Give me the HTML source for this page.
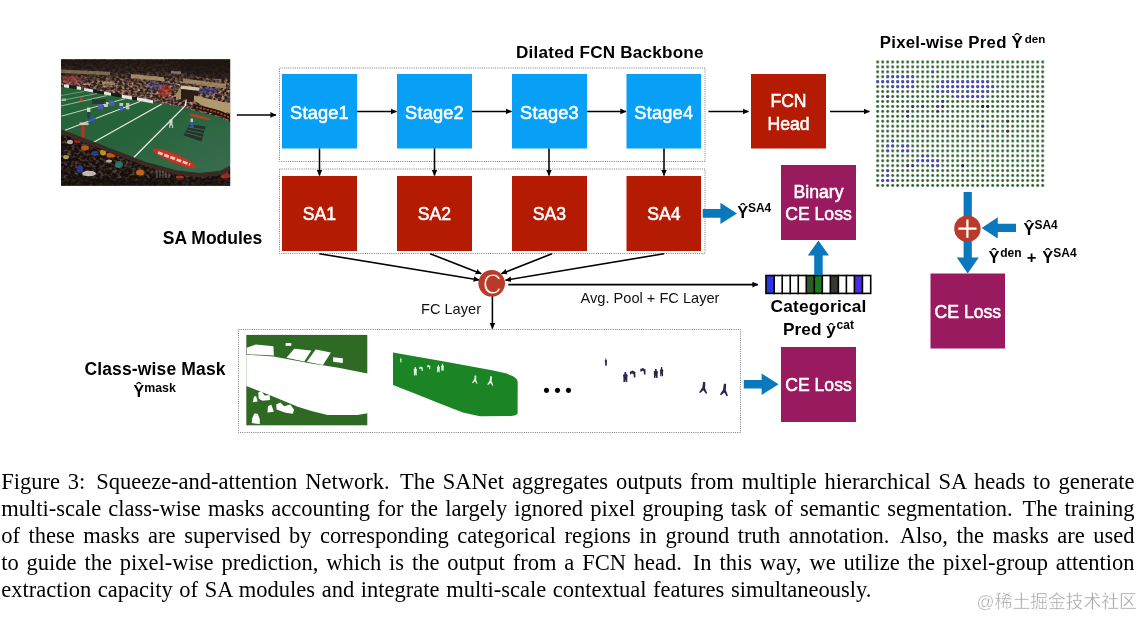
<!DOCTYPE html>
<html lang="en">
<head>
<meta charset="utf-8">
<title>Figure 3 - Squeeze-and-attention Network</title>
<style>
html,body{margin:0;padding:0;background:#fff;}
#wrap{position:relative;width:1143px;height:617px;overflow:hidden;background:#fff;font-family:"Liberation Sans",sans-serif;}
#fig{position:absolute;left:0;top:0;}
#fig text{font-family:"Liberation Sans",sans-serif;}
.w{fill:#fff;stroke:#fff;stroke-width:0.55px;font-size:17.6px;text-anchor:middle;}
.b{fill:#000;font-weight:bold;}
.r{fill:#111;font-size:14.6px;}
.cap{position:absolute;left:1.2px;width:1133.4px;height:27px;line-height:27px;font-family:"Liberation Serif",serif;font-size:22.5px;color:#000;text-align:justify;text-align-last:justify;white-space:nowrap;}
.cap.last{text-align:left;text-align-last:left;word-spacing:1.0px;}
.sp{display:inline-block;width:3px;}
.wm{position:absolute;left:976.6px;top:589.8px;font-family:"Liberation Sans","Noto Sans CJK SC",sans-serif;font-size:17.8px;color:#a4a4a4;-webkit-text-stroke:0.4px #fff;white-space:nowrap;line-height:24px;}
</style>
</head>
<body>
<div id="wrap">
<svg id="fig" width="1143" height="617" viewBox="0 0 1143 617">
<defs>
<marker id="ah" markerWidth="8" markerHeight="8" refX="5.6" refY="3" orient="auto" markerUnits="userSpaceOnUse"><path d="M0,0.2 L6,3 L0,5.8 Z" fill="#000"/></marker>
<pattern id="dots" x="875.20" y="59.53" width="5.00" height="4.94" patternUnits="userSpaceOnUse"><circle cx="2.5" cy="2.47" r="1.42" fill="#235a25"/></pattern>
<clipPath id="pc"><rect x="61" y="59.3" width="169.2" height="126.4"/></clipPath>
<filter id="crowd" x="0" y="0" width="100%" height="100%" color-interpolation-filters="sRGB">
<feTurbulence type="fractalNoise" baseFrequency="0.32 0.42" numOctaves="2" seed="7" result="n"/>
<feColorMatrix in="n" type="matrix" values="2.5 0.5 0 0 -1.15  2.0 0.5 0 0 -1.0  1.9 0 0.5 0 -0.97  0 0 0 0 1"/>
</filter>
<filter id="crowd2" x="0" y="0" width="100%" height="100%" color-interpolation-filters="sRGB">
<feTurbulence type="fractalNoise" baseFrequency="0.28 0.34" numOctaves="2" seed="21" result="n"/>
<feColorMatrix in="n" type="matrix" values="2.3 0.5 0 0 -1.18  1.9 0.5 0 0 -1.05  1.8 0 0.5 0 -1.0  0 0 0 0 1"/>
</filter>
<filter id="bl" x="-5%" y="-5%" width="110%" height="110%"><feGaussianBlur stdDeviation="0.6"/></filter>
<linearGradient id="fg" x1="0" y1="0" x2="1" y2="1">
<stop offset="0" stop-color="#246538"/><stop offset="0.5" stop-color="#27643b"/><stop offset="1" stop-color="#3a6c50"/>
</linearGradient>
<linearGradient id="topdark" x1="0" y1="0" x2="0" y2="1">
<stop offset="0" stop-color="#1c1410" stop-opacity="0.95"/><stop offset="0.55" stop-color="#1c1410" stop-opacity="0.75"/><stop offset="1" stop-color="#2a1c14" stop-opacity="0.15"/>
</linearGradient>
<clipPath id="lc"><polygon points="61,134 145,166.5 177.6,175.3 199.3,177.7 221,175.5 231,170 231,186 61,186"/></clipPath>

</defs>

<g clip-path="url(#pc)">
<rect x="61" y="59.3" width="169.2" height="126.4" fill="#2a1e17"/>
<g filter="url(#bl)">
<!-- upper crowd -->
<rect x="61" y="59.3" width="170" height="66" filter="url(#crowd)"/>
<rect x="61" y="59.3" width="170" height="66" fill="#5a4438" opacity="0.45"/>
<ellipse cx="222" cy="66" rx="42" ry="13" fill="#181010" opacity="0.6"/>
<rect x="61" y="59.3" width="170" height="22" fill="url(#topdark)"/>
<!-- beige walls -->
<polygon points="61,69.5 110,71.8 110,75.2 61,73" fill="#b8a078" opacity="0.55"/>
<polygon points="102,81.3 115,82.6 115,85.4 102,84.2" fill="#b89c70" opacity="0.7"/>
<polygon points="131,74 164,77.2 164,81.2 131,78" fill="#b8a078" opacity="0.8"/>

<polygon points="171,71 181,71.5 181,74 171,73.5" fill="#9a8a90" opacity="0.8"/>
<polygon points="181,85.5 199.5,87.5 199,91 181,89" fill="#d2c4a4"/>
<polygon points="181,89 199,91 197,101 178,99" fill="#2a1c14"/>
<polygon points="176,94 181,86 181,99 176,100" fill="#a08a64"/>
<polygon points="183,78.5 226,84 226,88.5 183,83" fill="#a89068" opacity="0.8"/>
<polygon points="194,95.5 230,103.5 230,113 222,111.5 205,107 194,100.5" fill="#b09a6c"/>
<!-- red / blue crowd tints -->
<ellipse cx="72" cy="80" rx="10" ry="4" fill="#c04048" opacity="0.45"/>
<ellipse cx="165" cy="91" rx="7" ry="6" fill="#c83020" opacity="0.5"/>
<ellipse cx="155" cy="86" rx="8" ry="4" fill="#3848a0" opacity="0.4"/>
<ellipse cx="208" cy="91" rx="10" ry="3.5" fill="#3040a0" opacity="0.45"/>
<!-- field -->
<polygon points="61,86.2 106,93.6 150,101.2 166.7,104.5 177.6,106 188.4,109 199.3,111.8 210,114.5 221,118 231,122.3 231,165.3 221,171 210,172.8 199.3,173.3 188,172.6 177.6,171 145,162.3 61,130" fill="url(#fg)"/>
<!-- ad boards along top edge -->
<g fill="#e8e4dc">
<polygon points="64,84.2 69,85 69,88 64,87.2"/><polygon points="76.5,86.2 81,87 81,90 76.5,89.2"/>
<polygon points="84,88 93,89.6 93,92.4 84,90.8"/><polygon points="104,91.5 111,92.8 111,95.8 104,94.5"/>
<polygon points="121.5,94.5 132,96.5 132,99.8 121.5,97.8"/><polygon points="137,97.3 153,100.3 153,103.6 137,100.6"/>
</g>
<g fill="#1c1a16"><polygon points="69,85 76.5,86.2 76.5,89.2 69,88"/><polygon points="93,89.6 104,91.5 104,94.5 93,92.4"/><polygon points="111,92.8 121.5,94.5 121.5,97.8 111,95.8"/><polygon points="132,96.5 137,97.3 137,100.6 132,99.8"/></g>
<!-- curved banner at right -->
<path d="M193,106.5 L205,109 L218,112.5 L231,118" stroke="#1a1410" stroke-width="4.6" fill="none"/>
<path d="M196,107.2 L205,109 L218,112.5 L231,118" stroke="#c8401c" stroke-width="1.6" fill="none" stroke-dasharray="2.4 1.2"/>
<!-- yard lines -->
<g stroke="#e9efe6" fill="none" stroke-linecap="butt">
<line x1="61" y1="95.5" x2="84" y2="91.5" stroke-width="0.7" opacity="0.5"/>
<line x1="61" y1="100.5" x2="97" y2="93.5" stroke-width="0.8" opacity="0.55"/>
<line x1="61" y1="106" x2="106.7" y2="95.6" stroke-width="0.9" opacity="0.7"/>
<line x1="61.6" y1="116.1" x2="125" y2="98.7" stroke-width="1" opacity="0.8"/>
<line x1="64.9" y1="130.3" x2="140.3" y2="101.4" stroke-width="1"/>
<line x1="93.7" y1="142.3" x2="161.8" y2="104.1" stroke-width="1.1"/>
<path d="M133.3,158 L185.3,105.8 L186.3,99.5" stroke-width="1.25"/>
</g>
<!-- red logos -->
<ellipse cx="174.3" cy="158.2" rx="23.6" ry="4.4" transform="rotate(22.5 174.3 158.2)" fill="#c93020"/>
<path d="M158,152.5 L190,164.5" stroke="#f0d8d0" stroke-width="2.8" stroke-dasharray="5 1.6" fill="none" opacity="0.9"/>
<ellipse cx="200" cy="117" rx="11.5" ry="1.4" transform="rotate(14 200 117)" fill="#d03a24" opacity="0.9"/>
<!-- dark blocks -->
<polygon points="183.5,135.2 189.5,124.3 205.5,126.6 201.5,141.4" fill="#26302a"/>
<path d="M186.5,129.8 L203.5,133.5 M185,132.6 L202.5,137.2 M188,127 L204.5,130" stroke="#3c6c48" stroke-width="0.9" fill="none"/>
<!-- goal post pad -->
<rect x="81.2" y="124.3" width="3.2" height="13.8" fill="#d8201c"/>
<rect x="79.5" y="122.5" width="9" height="2.6" fill="#e8d8d0" opacity="0.8"/>
<!-- players -->
<g opacity="0.85">
<rect x="169.4" y="119.5" width="3.2" height="6" fill="#e4e0d4"/><rect x="169.2" y="125" width="1.2" height="3" fill="#d8d4c8"/><rect x="172" y="125" width="1.2" height="3" fill="#d8d4c8"/>
<rect x="190.2" y="122" width="3.4" height="6" fill="#3c54b8"/><rect x="190.6" y="118.6" width="2.4" height="3.4" fill="#e8e0c0"/>
<rect x="87" y="107.5" width="3.4" height="4.6" fill="#e6e2c4"/><rect x="87.2" y="112" width="3" height="6.6" fill="#283868"/>
<rect x="98" y="104" width="5" height="5.5" fill="#4c5cb8"/><rect x="104" y="102" width="4" height="5" fill="#d8d8d0"/>
<rect x="109" y="100.5" width="5.5" height="5.5" fill="#4c5cb8"/><rect x="119.5" y="103" width="3.6" height="3.2" fill="#e6dca0"/><rect x="119.8" y="106" width="3.2" height="5" fill="#4658b8"/>
<rect x="126" y="103" width="3.4" height="6.4" fill="#d4d0c4"/><rect x="92" y="99" width="14" height="5" fill="#2a2824" opacity="0.8"/>
<rect x="88" y="118.5" width="8" height="2.6" fill="#3048d0" transform="rotate(-8 92 120)"/>
<rect x="80" y="97.5" width="2.6" height="4" fill="#c04040"/><rect x="62" y="98.5" width="4" height="2.6" fill="#d8c8c0" opacity="0.8"/>
</g>
<!-- lower board wall -->
<path d="M61,131.8 L145,164.2 L177.6,173 L199.3,175.4 L221,173.2 L231,167.8" stroke="#3a2a24" stroke-width="4.8" fill="none"/>
<!-- lower crowd -->
<polygon points="61,134 145,166.5 177.6,175.3 199.3,177.7 221,175.5 231,170 231,186 61,186" fill="#2a1d18"/>
<g clip-path="url(#lc)">
<rect x="61" y="128" width="170" height="58" filter="url(#crowd2)" opacity="0.9"/>
<rect x="61" y="128" width="170" height="58" fill="#1c130e" opacity="0.66"/>
<g opacity="0.8">
<ellipse cx="85" cy="148" rx="4" ry="2.4" fill="#e86414"/><ellipse cx="111" cy="155" rx="4.6" ry="2.6" fill="#e8601a"/>
<ellipse cx="103" cy="152.5" rx="3" ry="3" fill="#e8b020"/><ellipse cx="95" cy="153.5" rx="3.4" ry="2.4" fill="#2c48a8"/>
<ellipse cx="80" cy="169" rx="3.4" ry="4" fill="#2844a0"/><ellipse cx="119" cy="164.5" rx="4" ry="3.6" fill="#2c8a78"/>
<ellipse cx="89" cy="173.5" rx="7" ry="2.8" fill="#e4e0dc"/><ellipse cx="140" cy="172.5" rx="4" ry="3" fill="#e87818"/>
<ellipse cx="70" cy="142" rx="3" ry="2.2" fill="#d8d0c8"/><ellipse cx="77" cy="141" rx="3" ry="2" fill="#b02820"/>
<ellipse cx="66" cy="157" rx="3" ry="2" fill="#c8c060"/><ellipse cx="109" cy="161" rx="3" ry="1.6" fill="#d8d4d0"/>
<ellipse cx="125" cy="156" rx="2" ry="1.6" fill="#e0d8d0"/><ellipse cx="180" cy="178" rx="4" ry="2.4" fill="#c83820"/>
<ellipse cx="225" cy="176" rx="4" ry="4" fill="#b83028"/><ellipse cx="197" cy="170.8" rx="3.6" ry="1.8" fill="#e4e4e0"/>
</g>
<path d="M157,166 V178 M160,167 V178 M163,168 V178 M166,169 V178 M169,170 V178" stroke="#b0aca8" stroke-width="0.8" opacity="0.7"/>
<rect x="61" y="178" width="170" height="8" fill="#1a120e" opacity="0.6"/>
<path d="M61,172 L100,182 L160,183" stroke="#181210" stroke-width="3" fill="none" opacity="0.8"/>
</g>
</g>
</g>

<g><rect x="246.3" y="334.9" width="121" height="90.4" fill="#2e6a24"/>
<g fill="#fff">
<polygon points="246.3,354.7 259.8,355.5 273.4,356.6 292.4,359.9 311.4,363.4 338.5,367.7 354.8,371.0 368.9,373.7 368.9,413.0 357.5,414.9 327.6,414.9 311.4,411.1 297.8,406.8 270.7,395.4 246.3,385.9"/>
<polygon points="246.8,347.7 255.8,344.4 273.4,346.3 273.9,355.5 246.8,354.2"/>
<polygon points="286.4,357.7 294.3,348.7 311.4,350.4 304.3,361.5"/>
<polygon points="306.8,361.8 315.7,349.6 330.9,352.5 323.0,365.0"/>
<polygon points="333.1,357.2 342.8,358.2 342.8,362.9 333.1,361.8"/>
<polygon points="285.6,343.1 291.3,343.1 291.3,345.8 285.6,345.8"/>
<polygon points="253.9,396.8 256.0,395.9 257.7,401.4 252.8,402.2"/>
<polygon points="258.2,392.7 261.2,391.1 264.7,395.4 269.6,394.9 270.1,400.0 262.5,400.8 258.7,398.7"/>
<polygon points="268.0,406.2 271.2,404.6 273.9,411.7 267.4,412.5"/>
<polygon points="276.1,404.6 280.4,402.4 284.2,406.2 290.2,404.6 294.0,409.5 292.9,413.8 285.6,412.8 276.6,409.5"/>
<polygon points="252.2,418.2 254.4,413.6 257.7,413.8 259.8,419.3 259.8,424.1 251.7,423.1"/>
</g></g>
<polygon points="393.0,352.5 447.1,362.0 493.3,370.5 506.6,373.6 513.0,376.2 516.4,378.8 517.7,381.5 517.6,413.8 515.5,415.3 511.5,415.9 479.9,416.2 462.9,412.4 442.2,404.5 417.9,394.8 393.0,385.1" fill="#1b8425"/>
<g fill="#e2f2de">
<polygon points="400.5,357.8 401.1,357.8 401.1,358.8 401.6,359.2 401.4,360.4 401.4,362.6 400.9,362.6 400.8,361.2 400.7,362.6 400.2,362.6 400.2,360.4 400.0,359.2 400.5,358.8"/>
<polygon points="414.7,366.9 415.9,366.9 416.0,368.6 417.0,369.5 416.7,371.7 416.7,375.6 415.6,375.6 415.3,373.0 415.0,375.6 413.9,375.6 413.9,371.7 413.6,369.5 414.6,368.6"/>
<polygon points="419.2,367.3 421.0,366.6 422.8,367.5 422.8,371.1 421.7,371.1 421.5,368.9 420.3,368.4 419.7,369.3 419.2,368.9"/>
<polygon points="427.0,365.6 428.6,365.0 430.3,365.9 430.3,369.3 429.3,369.3 429.1,367.1 428.0,366.7 427.5,367.6 427.0,367.1"/>
<polygon points="437.8,365.0 439.0,365.0 439.0,366.5 440.0,367.2 439.7,369.0 439.7,372.3 438.7,372.3 438.4,370.1 438.1,372.3 437.1,372.3 437.1,369.0 436.8,367.2 437.8,366.5"/>
<polygon points="442.0,363.8 443.0,363.8 443.1,365.2 444.0,365.9 443.7,367.7 443.7,370.8 442.7,370.8 442.5,368.7 442.3,370.8 441.3,370.8 441.3,367.7 441.0,365.9 441.9,365.2"/>
<polygon points="474.8,375.4 476.2,375.4 476.3,377.0 476.1,379.8 477.5,383.4 476.8,384.1 475.0,381.3 472.8,383.2 472.0,382.7 474.2,379.3 474.5,376.7"/>
<polygon points="490.2,376.3 491.8,376.3 492.0,378.1 491.7,381.2 493.3,385.3 492.6,386.1 490.5,383.0 488.1,385.1 487.2,384.5 489.6,380.7 490.0,377.8"/>
</g>
<g fill="#2d2450">
<polygon points="605.5,358.3 606.3,358.3 606.3,359.8 607.0,360.5 606.8,362.4 606.8,365.7 606.1,365.7 605.9,363.5 605.7,365.7 605.0,365.7 605.0,362.4 604.8,360.5 605.5,359.8"/>
<polygon points="624.5,372.0 626.2,372.0 626.3,374.0 627.8,375.0 627.3,377.6 627.3,382.1 625.7,382.1 625.3,379.1 625.0,382.1 623.4,382.1 623.4,377.6 622.9,375.0 624.4,374.0"/>
<polygon points="629.9,371.7 632.6,370.6 635.4,372.0 635.4,377.6 633.8,377.6 633.5,374.1 631.5,373.4 630.7,374.8 629.9,374.1"/>
<polygon points="640.3,369.1 642.9,368.1 645.5,369.4 645.5,374.5 643.9,374.5 643.7,371.3 641.9,370.7 641.1,371.9 640.3,371.3"/>
<polygon points="655.0,369.0 656.6,369.0 656.7,370.8 658.1,371.7 657.6,373.9 657.6,377.9 656.2,377.9 655.8,375.2 655.4,377.9 654.0,377.9 654.0,373.9 653.5,371.7 654.9,370.8"/>
<polygon points="661.0,367.1 662.2,367.1 662.3,368.9 663.3,369.9 663.0,372.2 663.0,376.3 661.9,376.3 661.6,373.5 661.3,376.3 660.2,376.3 660.2,372.2 659.9,369.9 660.9,368.9"/>
<polygon points="703.1,382.1 705.2,382.1 705.3,384.3 705.0,388.1 707.1,393.1 706.1,394.1 703.4,390.3 700.3,392.9 699.1,392.2 702.3,387.5 702.8,383.9"/>
<polygon points="723.9,383.7 726.0,383.7 726.1,386.0 725.8,390.1 727.9,395.5 726.9,396.5 724.2,392.4 721.1,395.2 719.9,394.5 723.1,389.5 723.6,385.6"/>
</g>
<rect x="765.70" y="275.2" width="8.50" height="18.5" fill="#2b37e2"/>
<rect x="806.28" y="275.2" width="8.02" height="18.5" fill="#2f5a24"/>
<rect x="814.30" y="275.2" width="8.02" height="18.5" fill="#1c7a22"/>
<rect x="830.34" y="275.2" width="8.02" height="18.5" fill="#333a31"/>
<rect x="854.40" y="275.2" width="8.02" height="18.5" fill="#4a2ee0"/>
<path d="M774.20,274.7 V294.2 M782.22,274.7 V294.2 M790.24,274.7 V294.2 M798.26,274.7 V294.2 M806.28,274.7 V294.2 M814.30,274.7 V294.2 M822.32,274.7 V294.2 M830.34,274.7 V294.2 M838.36,274.7 V294.2 M846.38,274.7 V294.2 M854.40,274.7 V294.2 M862.42,274.7 V294.2 " stroke="#000" stroke-width="1.6" fill="none"/>
<rect x="766.00" y="275.50" width="104.70" height="17.90" fill="none" stroke="#000" stroke-width="1.6"/>
<rect x="875.20" y="59.53" width="170.00" height="128.44" fill="url(#dots)"/>
<g fill="#4a3ed2"><circle cx="877.7" cy="81.8" r="1.45"/><circle cx="882.7" cy="81.8" r="1.45"/><circle cx="882.7" cy="180.6" r="1.45"/><circle cx="887.7" cy="76.8" r="1.45"/><circle cx="887.7" cy="81.8" r="1.45"/><circle cx="887.7" cy="146.0" r="1.45"/><circle cx="887.7" cy="150.9" r="1.45"/><circle cx="887.7" cy="170.7" r="1.45"/><circle cx="887.7" cy="175.6" r="1.45"/><circle cx="887.7" cy="180.6" r="1.45"/><circle cx="892.7" cy="76.8" r="1.45"/><circle cx="892.7" cy="81.8" r="1.45"/><circle cx="892.7" cy="86.7" r="1.45"/><circle cx="892.7" cy="141.0" r="1.45"/><circle cx="892.7" cy="146.0" r="1.45"/><circle cx="892.7" cy="180.6" r="1.45"/><circle cx="897.7" cy="76.8" r="1.45"/><circle cx="897.7" cy="81.8" r="1.45"/><circle cx="897.7" cy="86.7" r="1.45"/><circle cx="902.7" cy="76.8" r="1.45"/><circle cx="902.7" cy="81.8" r="1.45"/><circle cx="902.7" cy="86.7" r="1.45"/><circle cx="902.7" cy="146.0" r="1.45"/><circle cx="902.7" cy="150.9" r="1.45"/><circle cx="907.7" cy="76.8" r="1.45"/><circle cx="907.7" cy="81.8" r="1.45"/><circle cx="907.7" cy="86.7" r="1.45"/><circle cx="907.7" cy="146.0" r="1.45"/><circle cx="907.7" cy="150.9" r="1.45"/><circle cx="912.7" cy="76.8" r="1.45"/><circle cx="912.7" cy="81.8" r="1.45"/><circle cx="912.7" cy="86.7" r="1.45"/><circle cx="917.7" cy="160.8" r="1.45"/><circle cx="922.7" cy="155.9" r="1.45"/><circle cx="922.7" cy="160.8" r="1.45"/><circle cx="927.7" cy="155.9" r="1.45"/><circle cx="927.7" cy="160.8" r="1.45"/><circle cx="932.7" cy="71.9" r="1.45"/><circle cx="932.7" cy="160.8" r="1.45"/><circle cx="932.7" cy="165.7" r="1.45"/><circle cx="937.7" cy="86.7" r="1.45"/><circle cx="937.7" cy="91.6" r="1.45"/><circle cx="937.7" cy="160.8" r="1.45"/><circle cx="937.7" cy="165.7" r="1.45"/><circle cx="942.7" cy="81.8" r="1.45"/><circle cx="942.7" cy="86.7" r="1.45"/><circle cx="942.7" cy="91.6" r="1.45"/><circle cx="947.7" cy="81.8" r="1.45"/><circle cx="947.7" cy="86.7" r="1.45"/><circle cx="947.7" cy="91.6" r="1.45"/><circle cx="952.7" cy="81.8" r="1.45"/><circle cx="952.7" cy="86.7" r="1.45"/><circle cx="952.7" cy="91.6" r="1.45"/><circle cx="957.7" cy="81.8" r="1.45"/><circle cx="957.7" cy="86.7" r="1.45"/><circle cx="957.7" cy="91.6" r="1.45"/><circle cx="957.7" cy="96.6" r="1.45"/><circle cx="962.7" cy="81.8" r="1.45"/><circle cx="962.7" cy="86.7" r="1.45"/><circle cx="962.7" cy="96.6" r="1.45"/><circle cx="967.7" cy="81.8" r="1.45"/><circle cx="967.7" cy="86.7" r="1.45"/><circle cx="967.7" cy="91.6" r="1.45"/><circle cx="967.7" cy="96.6" r="1.45"/><circle cx="972.7" cy="81.8" r="1.45"/><circle cx="972.7" cy="86.7" r="1.45"/><circle cx="972.7" cy="91.6" r="1.45"/><circle cx="972.7" cy="96.6" r="1.45"/><circle cx="977.7" cy="81.8" r="1.45"/><circle cx="977.7" cy="86.7" r="1.45"/><circle cx="977.7" cy="91.6" r="1.45"/><circle cx="977.7" cy="96.6" r="1.45"/><circle cx="982.7" cy="81.8" r="1.45"/><circle cx="982.7" cy="86.7" r="1.45"/><circle cx="982.7" cy="91.6" r="1.45"/><circle cx="982.7" cy="96.6" r="1.45"/><circle cx="987.7" cy="81.8" r="1.45"/><circle cx="987.7" cy="86.7" r="1.45"/><circle cx="987.7" cy="91.6" r="1.45"/><circle cx="992.7" cy="86.7" r="1.45"/></g>
<g fill="#4a2a78"><circle cx="887.7" cy="96.6" r="1.45"/><circle cx="907.7" cy="111.4" r="1.45"/><circle cx="907.7" cy="116.3" r="1.45"/><circle cx="907.7" cy="165.7" r="1.45"/><circle cx="912.7" cy="106.5" r="1.45"/><circle cx="912.7" cy="165.7" r="1.45"/><circle cx="922.7" cy="106.5" r="1.45"/><circle cx="937.7" cy="106.5" r="1.45"/><circle cx="937.7" cy="111.4" r="1.45"/><circle cx="942.7" cy="101.5" r="1.45"/><circle cx="942.7" cy="106.5" r="1.45"/><circle cx="982.7" cy="126.2" r="1.45"/></g>
<g fill="#1a1a1a"><circle cx="962.7" cy="165.7" r="1.45"/><circle cx="982.7" cy="106.5" r="1.45"/><circle cx="987.7" cy="106.5" r="1.45"/></g>
<g fill="#6a2030"><circle cx="1007.7" cy="121.3" r="1.45"/><circle cx="1007.7" cy="131.2" r="1.45"/></g>
<!-- dotted group boxes -->
<g fill="none" stroke="#7a7a7a" stroke-width="1" stroke-dasharray="1 1.2">
<rect x="279.5" y="68" width="425.5" height="93.5"/>
<rect x="279.5" y="169" width="425.5" height="84.5"/>
<rect x="238.5" y="329.5" width="502" height="103"/>
</g>

<!-- stage boxes -->
<g fill="#08a0f6">
<rect x="282" y="74" width="75" height="74.5"/>
<rect x="397" y="74" width="75" height="74.5"/>
<rect x="512" y="74" width="75" height="74.5"/>
<rect x="626.5" y="74" width="74.5" height="74.5"/>
</g>
<!-- red boxes -->
<g fill="#b51a03">
<rect x="282" y="176" width="75" height="75"/>
<rect x="397" y="176" width="75" height="75"/>
<rect x="512" y="176" width="75" height="75"/>
<rect x="626.5" y="176" width="74.5" height="75"/>
<rect x="751" y="74" width="75" height="74.5"/>
</g>
<!-- purple boxes -->
<g fill="#9a1a5f">
<rect x="781" y="165" width="75" height="75"/>
<rect x="930.5" y="273.5" width="74.5" height="75"/>
<rect x="781" y="347" width="75" height="75"/>
</g>

<!-- thin arrows -->
<g stroke="#000" stroke-width="1.55" fill="none" marker-end="url(#ah)">
<line x1="236.8" y1="114.9" x2="276" y2="114.9"/>
<line x1="357" y1="111.4" x2="396.5" y2="111.4"/>
<line x1="472" y1="111.4" x2="511.5" y2="111.4"/>
<line x1="587" y1="111.4" x2="626" y2="111.4"/>
<line x1="708.5" y1="111.4" x2="748.5" y2="111.4"/>
<line x1="830" y1="111.4" x2="869.5" y2="111.4"/>
<line x1="319.5" y1="148.5" x2="319.5" y2="175.5"/>
<line x1="434.5" y1="148.5" x2="434.5" y2="175.5"/>
<line x1="549" y1="148.5" x2="549" y2="175.5"/>
<line x1="664" y1="148.5" x2="664" y2="175.5"/>
<line x1="319.2" y1="253.7" x2="479.2" y2="280"/>
<line x1="430.2" y1="253.7" x2="481.3" y2="273.7"/>
<line x1="552" y1="253.7" x2="501.4" y2="273.7"/>
<line x1="664" y1="253.7" x2="505.5" y2="280.2"/>
<line x1="508.3" y1="284.6" x2="758" y2="284.6"/>
<line x1="492.4" y1="296" x2="492.4" y2="328.6"/>
</g>

<!-- concat circle -->
<circle cx="491.7" cy="283.3" r="13.3" fill="#ba3a2a"/>
<text x="0" y="0" font-size="29.5" fill="#fff" stroke="#ba3a2a" stroke-width="0.8" text-anchor="middle" transform="translate(492,293.6) scale(0.88,1)">C</text>

<!-- thick blue arrows -->
<g fill="#0a78bd">
<path d="M702.7,209 H720.4 V202.7 L737,213.4 L720.4,224 V217.7 H702.7 Z"/>
<path d="M814.2,274.9 V255.6 H807.8 L818.4,240.6 L829,255.6 H822.7 V274.9 Z"/>
<path d="M963.6,192 H971.8 V257.4 H978.8 L967.7,273.4 L956.8,257.4 H963.6 Z"/>
<path d="M1016,223.7 H997.8 V217.2 L981.6,227.9 L997.8,238.6 V232.1 H1016 Z"/>
<path d="M743.8,380 H761.6 V373.4 L778.6,384.2 L761.6,395 V388.5 H743.8 Z"/>
</g>
<!-- plus circle -->
<circle cx="967.4" cy="228.7" r="13.2" fill="#ba3a2a"/>
<path d="M967.4,219.6 V237.8 M958.3,228.7 H976.5" stroke="#fff" stroke-width="2.2" fill="none"/>

<!-- box labels -->
<g class="w">
<text x="319.5" y="119" font-size="18.2" letter-spacing="0.2">Stage1</text>
<text x="434.5" y="119" font-size="18.2" letter-spacing="0.2">Stage2</text>
<text x="549.5" y="119" font-size="18.2" letter-spacing="0.2">Stage3</text>
<text x="663.8" y="119" font-size="18.2" letter-spacing="0.2">Stage4</text>
<text x="319.5" y="220">SA1</text>
<text x="434.5" y="220">SA2</text>
<text x="549.5" y="220">SA3</text>
<text x="663.8" y="220">SA4</text>
<text x="788.5" y="107.2">FCN</text>
<text x="788.5" y="130">Head</text>
<text x="818.5" y="198">Binary</text>
<text x="818.5" y="219.6">CE Loss</text>
<text x="967.8" y="318">CE Loss</text>
<text x="818.5" y="391">CE Loss</text>
</g>

<!-- bold labels -->
<g class="b">
<text x="516" y="58.2" font-size="17.1" letter-spacing="0.22">Dilated FCN Backbone</text>
<text x="879.8" y="48.4" font-size="16.8" letter-spacing="0.25">Pixel-wise Pred Ŷ<tspan dx="1.6" dy="-5.8" font-size="11.6" letter-spacing="0.1">den</tspan></text>
<text x="162.8" y="244.2" font-size="17.5">SA Modules</text>
<text x="84.4" y="375.4" font-size="17.5" letter-spacing="0.15">Class-wise Mask</text>
<text x="133.5" y="397" font-size="16">Ŷ<tspan dy="-5.2" font-size="12.4">mask</tspan></text>
<text x="818.5" y="312" font-size="17.3" letter-spacing="0.15" text-anchor="middle">Categorical</text>
<text x="818.5" y="334.8" font-size="17.3" letter-spacing="0" text-anchor="middle">Pred ŷ<tspan dx="0.6" dy="-6" font-size="12">cat</tspan></text>
<text x="737.3" y="218.4" font-size="16.5">Ŷ<tspan dx="-0.4" dy="-6.2" font-size="12">SA4</tspan></text>
<text x="1023.6" y="234.5" font-size="16.5">Ŷ<tspan dx="-0.2" dy="-6" font-size="12">SA4</tspan></text>
<text y="262.7" font-size="16.5"><tspan x="988.6">Ŷ</tspan><tspan x="1000.2" dy="-6" font-size="12">den</tspan><tspan x="1026.7" dy="6">+</tspan><tspan x="1042.2">Ŷ</tspan><tspan x="1053.3" dy="-6" font-size="12">SA4</tspan></text>
</g>

<!-- regular labels -->
<g class="r">
<text x="421" y="313.8">FC Layer</text>
<text x="580.6" y="303.2">Avg. Pool + FC Layer</text>
<text x="543.2" y="396.2" font-size="18.5" font-weight="bold" fill="#000" letter-spacing="4.5">•••</text>
</g>
</svg>

<div class="cap" style="top:468.2px">Figure 3:<span class="sp"></span> Squeeze-and-attention Network.<span class="sp"></span> The SANet aggregates outputs from multiple hierarchical SA heads to generate</div>
<div class="cap" style="top:495.2px">multi-scale class-wise masks accounting for the largely ignored pixel grouping task of semantic segmentation.<span class="sp"></span> The training</div>
<div class="cap" style="top:522.2px">of these masks are supervised by corresponding categorical regions in ground truth annotation.<span class="sp"></span> Also, the masks are used</div>
<div class="cap" style="top:549.2px">to guide the pixel-wise prediction, which is the output from a FCN head.<span class="sp"></span> In this way, we utilize the pixel-group attention</div>
<div class="cap last" style="top:576.1px">extraction capacity of SA modules and integrate multi-scale contextual features simultaneously.</div>
<div class="wm">@稀土掘金技术社区</div>
</div>
</body>
</html>
